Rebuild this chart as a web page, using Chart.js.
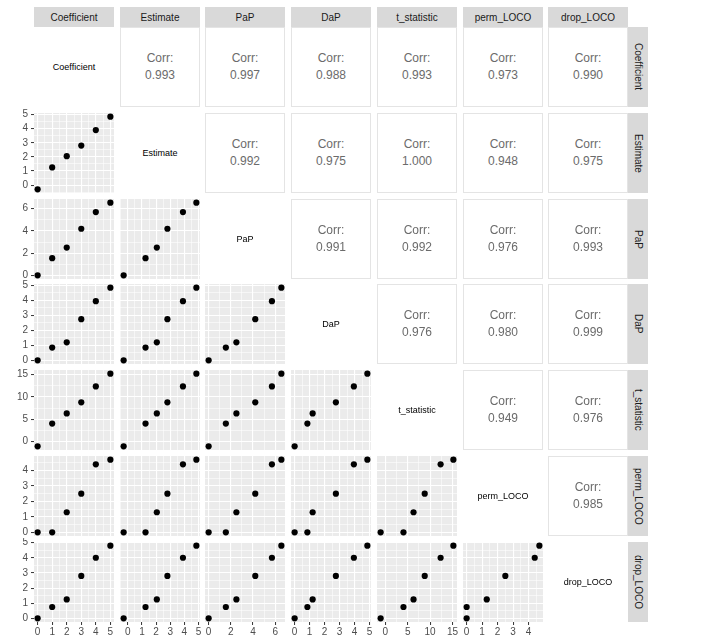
<!DOCTYPE html>
<html lang="en">
<head>
  <meta charset="UTF-8">
  <title>Pairs plot</title>
  <script src="https://cdn.jsdelivr.net/npm/chart.js@4.4.1/dist/chart.umd.min.js"></script>
  <style>
    body {
      margin: 0;
      background: #fff;
      font-family: "Liberation Sans", Arial, sans-serif;
    }

    #wrap {
      position: relative;
      width: 704px;
      height: 641px;
      overflow: hidden;
    }

    .strip-top, .strip-right {
      position: absolute;
      background: #d9d9d9;
      color: #1a1a1a;
      font-size: 10px;
      display: flex;
      align-items: center;
      justify-content: center;
    }

    .strip-right {
      writing-mode: vertical-rl;
    }

    .upper {
      position: absolute;
      box-sizing: border-box;
      border: 1px solid #e4e4e4;
      background: #fff;
      color: #6b6b6b;
      font-size: 12px;
      text-align: center;
    }

    .upper div {
      position: absolute;
      left: 0;
      right: 0;
    }

    .diag {
      position: absolute;
      display: flex;
      align-items: center;
      justify-content: center;
      font-size: 9px;
      color: #000;
    }

    canvas {
      position: absolute;
    }
  </style>
</head>
<body>
  <div id="wrap"></div>
  <script>
    // variables, in plot order
    const varNames = ['Coefficient', 'Estimate', 'PaP', 'DaP', 't_statistic', 'perm_LOCO', 'drop_LOCO'];

    const coefficient = [0, 1, 2, 3, 4, 5];
    const estimate = [-0.3, 1.25, 2.05, 2.8, 3.9, 4.85];
    const pap = [0, 1.55, 2.5, 4.2, 5.7, 6.55];
    const dap = [0, 0.85, 1.2, 2.75, 3.95, 4.85];
    const tStatistic = [-1.05, 4.05, 6.3, 8.8, 12.35, 15.2];
    const permLoco = [0, 0, 1.3, 2.5, 4.4, 4.7];
    const dropLoco = [0, 0.75, 1.25, 2.8, 4.0, 4.8];

    // axis breaks
    const coefficientTicks = [0, 1, 2, 3, 4, 5];
    const estimateTicks = [0, 1, 2, 3, 4, 5];
    const papTicks = [0, 2, 4, 6];
    const dapTicks = [0, 1, 2, 3, 4, 5];
    const tStatisticTicks = [0, 5, 10, 15];
    const permLocoTicks = [0, 1, 2, 3, 4];
    const dropLocoTicks = [0, 1, 2, 3, 4, 5];

    // correlation labels of the upper panels, row by row
    const corrRow0 = ['0.993', '0.997', '0.988', '0.993', '0.973', '0.990'];
    const corrRow1 = ['0.992', '0.975', '1.000', '0.948', '0.975'];
    const corrRow2 = ['0.991', '0.992', '0.976', '0.993'];
    const corrRow3 = ['0.976', '0.980', '0.999'];
    const corrRow4 = ['0.949', '0.976'];
    const corrRow5 = ['0.985'];

    const series = [coefficient, estimate, pap, dap, tStatistic, permLoco, dropLoco];
    const breaks = [coefficientTicks, estimateTicks, papTicks, dapTicks, tStatisticTicks, permLocoTicks, dropLocoTicks];
    const corrRows = [corrRow0, corrRow1, corrRow2, corrRow3, corrRow4, corrRow5];

    const N = varNames.length;
    const PANEL = 80;
    const PITCH_X = 85.7;
    const PITCH_Y = 85.8;
    const LEFT0 = 34;
    const TOP0 = 27;
    const AXIS_W = 34;
    const AXIS_H = 18;
    const PAD = 4;

    const wrap = document.getElementById('wrap');
    const px = c => Math.round(LEFT0 + c * PITCH_X);
    const py = r => Math.round(TOP0 + r * PITCH_Y);

    // ggplot style range: 5% expansion on each side
    function range(vals) {
      const lo = Math.min(...vals), hi = Math.max(...vals);
      const e = (hi - lo) * 0.05;
      return [lo - e, hi + e];
    }

    // major + minor breaks inside the range
    function allBreaks(maj, lim) {
      const step = maj[1] - maj[0];
      const out = [];
      for (let v = maj[0] - step / 2; v <= maj[maj.length - 1] + step / 2 + 1e-9; v += step / 2) {
        if (v >= lim[0] && v <= lim[1]) out.push(+v.toFixed(6));
      }
      return out;
    }

    const bgPlugin = {
      id: 'panelBg',
      beforeDraw(chart) {
        const a = chart.chartArea;
        const ctx = chart.ctx;
        ctx.save();
        ctx.fillStyle = '#ebebeb';
        ctx.fillRect(a.left, a.top, a.right - a.left, a.bottom - a.top);
        ctx.restore();
      }
    };

    function axisOpts(idx, show, isX) {
      const lim = range(series[idx]);
      const maj = breaks[idx];
      const ticks = allBreaks(maj, lim);
      const isMajor = v => maj.some(m => Math.abs(m - v) < 1e-6);
      return {
        type: 'linear',
        min: lim[0],
        max: lim[1],
        border: { display: false },
        grid: {
          color: '#ffffff',
          lineWidth: ctx => (ctx.tick && isMajor(ctx.tick.value)) ? 1.1 : 0.55,
          drawTicks: show,
          tickLength: 3,
          tickWidth: 1,
          tickColor: ctx => (ctx.tick && isMajor(ctx.tick.value)) ? '#333333' : 'rgba(0,0,0,0)'
        },
        ticks: {
          display: show,
          autoSkip: false,
          maxRotation: 0,
          padding: isX ? 1 : 3,
          color: '#4d4d4d',
          font: { family: '"Liberation Sans", Arial, sans-serif', size: 10 },
          callback: v => isMajor(v) ? String(maj.find(m => Math.abs(m - v) < 1e-6)) : ''
        },
        afterBuildTicks: s => { s.ticks = ticks.map(v => ({ value: v })); },
        afterFit: s => {
          if (isX) s.height = show ? AXIS_H : 0;
          else s.width = show ? AXIS_W : 0;
          s.paddingLeft = 0; s.paddingRight = 0; s.paddingTop = 0; s.paddingBottom = 0;
        }
      };
    }

    function scatterPanel(r, c) {
      const showY = c === 0;
      const showX = r === N - 1;
      const left = px(c) - PAD - (showY ? AXIS_W : 0);
      const top = py(r) - PAD;
      const w = PANEL + 2 * PAD + (showY ? AXIS_W : 0);
      const h = PANEL + 2 * PAD + (showX ? AXIS_H : 0);
      const cv = document.createElement('canvas');
      cv.width = w; cv.height = h;
      cv.style.left = left + 'px';
      cv.style.top = top + 'px';
      cv.style.width = w + 'px';
      cv.style.height = h + 'px';
      wrap.appendChild(cv);
      const xs = series[c], ys = series[r];
      new Chart(cv, {
        type: 'scatter',
        data: {
          datasets: [{
            data: xs.map((x, i) => ({ x: x, y: ys[i] })),
            backgroundColor: '#000',
            borderColor: '#000',
            pointRadius: 3.1,
            pointHoverRadius: 3.1,
            borderWidth: 0
          }]
        },
        options: {
          responsive: false,
          animation: false,
          devicePixelRatio: 1,
          events: [],
          layout: { padding: PAD, autoPadding: false },
          plugins: { legend: { display: false }, tooltip: { enabled: false } },
          scales: {
            x: axisOpts(c, showX, true),
            y: axisOpts(r, showY, false)
          }
        },
        plugins: [bgPlugin]
      });
    }

    function addDiv(cls, left, top, w, h, html) {
      const d = document.createElement('div');
      d.className = cls;
      d.style.left = left + 'px';
      d.style.top = top + 'px';
      d.style.width = w + 'px';
      d.style.height = h + 'px';
      d.innerHTML = html;
      wrap.appendChild(d);
      return d;
    }

    // strips
    for (let i = 0; i < N; i++) {
      addDiv('strip-top', px(i), 7, PANEL, 20, varNames[i]);
      addDiv('strip-right', px(N - 1) + PANEL, py(i), 20, PANEL, varNames[i]);
    }

    for (let r = 0; r < N; r++) {
      for (let c = 0; c < N; c++) {
        if (r === c) {
          addDiv('diag', px(c), py(r), PANEL, PANEL, varNames[r]);
        } else if (c > r) {
          const d = addDiv('upper', px(c), py(r), PANEL, PANEL, '');
          const a = document.createElement('div');
          a.style.top = '23px';
          a.textContent = 'Corr:';
          const b = document.createElement('div');
          b.style.top = '40px';
          b.textContent = corrRows[r][c - r - 1];
          d.appendChild(a);
          d.appendChild(b);
        } else {
          scatterPanel(r, c);
        }
      }
    }
  </script>
</body>
</html>
